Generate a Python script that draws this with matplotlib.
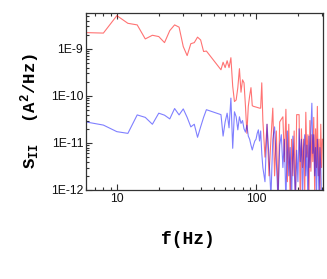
import matplotlib
matplotlib.use("Agg")
import matplotlib.pyplot as plt
from matplotlib.ticker import FixedLocator, FixedFormatter, LogLocator, NullFormatter

# ---- data ----
freq = [6, 8, 10, 12, 14, 16, 18, 20, 22, 24, 26, 28, 30, 32, 34, 36, 38, 40, 42, 44,
        56, 58, 60, 62, 64, 66, 68, 70, 72, 74, 76, 78, 80, 82, 84, 86, 88, 90, 92, 94,
        96, 98, 100, 102, 104, 106, 108, 110,
        112, 116, 120, 124, 128, 132, 136, 140, 144, 148, 152, 156, 160, 164, 168, 172,
        176, 180, 184, 188, 192, 196, 200, 204, 208, 212, 216, 220, 224, 228, 232, 236,
        240, 244, 248, 252, 256, 260, 264, 268, 272, 276, 280, 284, 288, 292, 296, 300]

s_red = [2.22e-9, 2.17e-9, 5.1e-9, 3.5e-9, 3.24e-9, 1.63e-9, 1.95e-9, 1.83e-9, 1.36e-9, 2.45e-9,
         3.24e-9, 2.9e-9, 1.12e-9, 7.2e-10, 1.29e-9, 1.36e-9, 1.78e-9, 1.55e-9, 8.8e-10, 9.0e-10,
         3.6e-10, 5.2e-10, 4.0e-10, 5.6e-10, 4.0e-10, 6.5e-10, 1.6e-10, 7.6e-11, 8.2e-11, 1.5e-10,
         3.8e-10, 1.2e-10, 2.2e-10, 1.9e-10, 6e-11, 1.6e-11, 6e-11, 1.0e-10, 1.5e-10, 6.2e-11,
         6.0e-11, 5.9e-11, 5.8e-11, 5.7e-11, 5.6e-11, 5.5e-11, 5.5e-11, 1.9e-10,
         3e-11, 5e-12, 2.5e-11, 2e-12, 1.2e-11, 5.5e-11, 2e-12, 1.8e-11, 7e-13, 2.8e-11,
         3.2e-11, 3.6e-11, 4e-12, 5.2e-11, 1.5e-12, 2.5e-11, 6e-13, 1.2e-11, 2e-12, 1.8e-11,
         6e-13, 4e-11, 4e-11, 4e-11, 5e-13, 2e-11, 3e-12, 1.2e-11, 8e-13, 4.5e-11,
         5e-12, 1.5e-11, 6e-13, 3e-11, 2.5e-12, 1.5e-11, 4e-12, 3.5e-11, 8e-13, 2e-11,
         3e-12, 6e-11, 2e-12, 1.2e-11, 5e-13, 2.5e-11, 3e-12, 1.2e-11]

s_blue = [2.8e-11, 2.4e-11, 1.74e-11, 1.6e-11, 3.95e-11, 3.5e-11, 2.5e-11, 4.3e-11, 3.9e-11, 3.25e-11,
          5.4e-11, 3.95e-11, 5.3e-11, 3.5e-11, 2.2e-11, 2.5e-11, 1.32e-11, 2.2e-11, 3.5e-11, 5.1e-11,
          4.0e-11, 1.4e-11, 2.8e-11, 4.3e-11, 2.1e-11, 9.0e-11, 7.7e-12, 4.6e-11, 3.6e-11, 1.9e-11,
          3.6e-11, 2.6e-11, 3.0e-11, 2.0e-11, 1.7e-11, 2.4e-11, 1.4e-11, 1.2e-11, 9e-12, 7.1e-12,
          9e-12, 1.1e-11, 1.2e-11, 1.6e-11, 1.9e-11, 1.1e-11, 1.8e-11, 6e-12,
          3e-12, 1.5e-12, 2.5e-11, 5e-12, 7e-13, 1.2e-11, 2.2e-11, 4e-12, 6e-13, 9e-12,
          1.5e-11, 3e-12, 1.2e-11, 5e-13, 1.8e-11, 2e-12, 8e-12, 5e-13, 1.4e-11, 3e-12,
          6e-13, 7e-12, 1.5e-12, 2e-11, 4e-12, 1.2e-11, 6e-13, 8e-12, 1.5e-11, 2e-12,
          9e-12, 5e-13, 1.4e-11, 3e-12, 2e-11, 7e-11, 6e-12, 1.5e-11, 2e-12, 8e-12,
          5e-13, 1.2e-11, 3e-12, 6e-13, 8e-12, 3e-12, 6e-13, 1e-12]

y_ticks = [1e-12, 1e-11, 1e-10, 1e-9]
y_tick_labels = ["1E-12", "1E-11", "1E-10", "1E-9"]
x_ticks = [10, 100]
x_tick_labels = ["10", "100"]

# ---- figure ----
plt.rcParams['mathtext.fontset'] = 'custom'
plt.rcParams['mathtext.rm'] = 'Liberation Mono:bold'
plt.rcParams['mathtext.it'] = 'Liberation Mono:bold'
plt.rcParams['mathtext.bf'] = 'Liberation Mono:bold'

fig = plt.figure(figsize=(3.27, 2.79), dpi=100)
ax = fig.add_axes([86/327, 1-190/279, (323-86)/327, (190-13)/279])

ax.plot(freq, s_red, color='#ff0000', alpha=0.55, lw=0.8)
ax.plot(freq, s_blue, color='#0000ff', alpha=0.5, lw=0.8)

ax.set_xscale('log')
ax.set_yscale('log')
ax.set_xlim(6.0, 303)
ax.set_ylim(1e-12, 5.8e-9)

ax.yaxis.set_major_locator(FixedLocator(y_ticks))
ax.yaxis.set_major_formatter(FixedFormatter(y_tick_labels))
ax.yaxis.set_minor_locator(LogLocator(base=10, subs=range(2, 10)))
ax.yaxis.set_minor_formatter(NullFormatter())
ax.xaxis.set_major_locator(FixedLocator(x_ticks))
ax.xaxis.set_major_formatter(FixedFormatter(x_tick_labels))
ax.xaxis.set_minor_locator(LogLocator(base=10, subs=range(2, 10)))
ax.xaxis.set_minor_formatter(NullFormatter())

ax.tick_params(which='both', direction='in', top=True, right=False, color='#333333', width=0.8)
ax.tick_params(which='major', length=4, pad=2)
ax.tick_params(which='minor', length=2)
for lab in ax.get_xticklabels() + ax.get_yticklabels():
    lab.set_fontfamily('Liberation Sans')
    lab.set_fontsize(8.8)
    lab.set_color('#111111')
for sp in ax.spines.values():
    sp.set_linewidth(0.9)
    sp.set_color('#333333')

fig.text(30/327, 1-111/279, r"S$_{II}$  (A$^{2}$/Hz)", rotation=90,
         ha='center', va='center', fontfamily='Liberation Mono', fontweight='bold',
         fontsize=12.5)
fig.text(188/327, 1-240/279, "f(Hz)", ha='center', va='center',
         fontfamily='Liberation Mono', fontweight='bold', fontsize=13)

fig.savefig("out.png", dpi=100)
